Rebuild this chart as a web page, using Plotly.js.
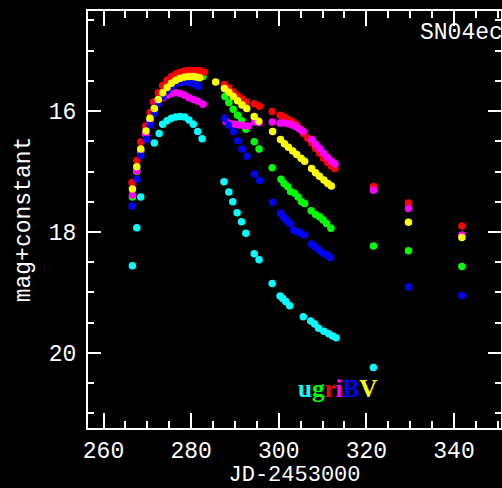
<!DOCTYPE html>
<html>
<head>
<meta charset="utf-8">
<script src="https://cdn.plot.ly/plotly-3.0.1.min.js"></script>
<style>html,body{margin:0;padding:0;background:#000;}#chart{width:502px;height:488px;}</style>
</head>
<body>
<div id="chart"></div>
<script>
// u band
const u_x = [266.6, 267.6, 268.5, 271.6, 272.7, 273.5, 274.5, 275.5, 276.5, 277.5, 278.5, 279.5, 280.5, 281.5, 282.5, 287.5, 288.6, 289.5, 290.5, 291.5, 292.5, 294.4, 295.5, 298.5, 300.3, 300.9, 301.6, 302.5, 305.6, 307.3, 308.2, 309.1, 310.3, 311.4, 312.3, 313.1, 321.6];
const u_y = [18.56, 17.93, 17.42, 16.53, 16.37, 16.22, 16.16, 16.12, 16.10, 16.09, 16.10, 16.15, 16.22, 16.34, 16.46, 17.17, 17.34, 17.50, 17.68, 17.83, 18.02, 18.36, 18.46, 18.85, 19.06, 19.10, 19.15, 19.22, 19.40, 19.47, 19.52, 19.59, 19.64, 19.68, 19.72, 19.75, 20.24];
// g band
const g_x = [266.6, 267.6, 268.5, 269.6, 270.6, 271.6, 272.5, 273.5, 274.5, 275.5, 276.5, 277.5, 278.5, 279.5, 280.5, 281.5, 282.7, 287.7, 288.6, 289.6, 290.6, 291.5, 292.5, 294.4, 295.5, 298.5, 300.5, 301.2, 302.0, 302.7, 303.6, 304.4, 305.2, 305.9, 307.4, 308.4, 309.3, 310.1, 310.9, 311.9, 321.6, 329.6, 341.8];
const g_y = [17.42, 17.00, 16.66, 16.38, 16.15, 15.97, 15.82, 15.70, 15.60, 15.53, 15.48, 15.45, 15.43, 15.42, 15.42, 15.42, 15.43, 15.76, 15.86, 15.97, 16.07, 16.16, 16.30, 16.51, 16.63, 16.94, 17.13, 17.20, 17.25, 17.33, 17.36, 17.42, 17.50, 17.53, 17.65, 17.71, 17.75, 17.80, 17.86, 17.94, 18.23, 18.31, 18.57];
// r band
const r_x = [266.5, 267.6, 268.5, 269.6, 270.6, 271.4, 272.5, 273.5, 274.5, 275.5, 276.5, 277.5, 278.5, 279.5, 280.5, 281.5, 282.2, 283.0, 287.6, 288.6, 289.6, 290.6, 291.6, 292.6, 294.4, 295.6, 298.5, 300.3, 301.2, 302.1, 303.0, 303.9, 304.8, 305.6, 306.6, 307.5, 308.4, 309.3, 310.2, 311.1, 312.0, 312.8, 321.6, 329.6, 341.8];
const r_y = [17.18, 16.82, 16.51, 16.25, 16.03, 15.85, 15.70, 15.58, 15.49, 15.43, 15.39, 15.36, 15.34, 15.33, 15.33, 15.33, 15.34, 15.36, 15.56, 15.62, 15.69, 15.75, 15.80, 15.85, 15.88, 15.92, 16.01, 16.07, 16.10, 16.14, 16.17, 16.22, 16.29, 16.37, 16.45, 16.53, 16.62, 16.70, 16.78, 16.85, 16.91, 16.95, 17.25, 17.52, 17.90];
// i band
const i_x = [266.6, 267.6, 268.5, 269.6, 270.6, 271.6, 272.5, 273.5, 274.5, 275.5, 276.5, 277.5, 278.5, 279.5, 280.5, 281.5, 282.7, 288.0, 289.0, 290.0, 291.0, 292.0, 293.0, 294.5, 295.5, 298.5, 300.3, 301.2, 302.1, 303.0, 303.9, 304.8, 305.6, 307.5, 308.4, 309.3, 310.2, 311.1, 312.0, 312.8, 321.6, 329.6, 341.8];
const i_y = [17.39, 16.99, 16.66, 16.38, 16.16, 15.98, 15.86, 15.78, 15.74, 15.71, 15.70, 15.71, 15.74, 15.78, 15.81, 15.84, 15.89, 16.18, 16.21, 16.22, 16.23, 16.24, 16.25, 16.18, 16.19, 16.18, 16.20, 16.20, 16.21, 16.23, 16.26, 16.30, 16.34, 16.47, 16.55, 16.62, 16.70, 16.77, 16.83, 16.87, 17.31, 17.61, 18.05];
// B band
const B_x = [266.5, 267.6, 268.5, 269.7, 270.6, 271.6, 272.5, 273.5, 274.5, 275.5, 276.5, 277.5, 278.5, 279.5, 280.5, 281.6, 287.6, 288.5, 289.6, 290.6, 291.6, 292.7, 294.4, 295.6, 298.6, 300.4, 301.0, 301.6, 302.5, 303.4, 304.1, 305.0, 305.7, 307.4, 308.3, 309.2, 310.1, 311.0, 311.7, 329.6, 341.8];
const B_y = [17.57, 17.13, 16.74, 16.47, 16.23, 16.04, 15.88, 15.76, 15.67, 15.60, 15.55, 15.53, 15.52, 15.53, 15.55, 15.59, 16.12, 16.23, 16.34, 16.49, 16.63, 16.75, 17.04, 17.15, 17.51, 17.69, 17.75, 17.80, 17.86, 17.97, 17.99, 18.02, 18.05, 18.20, 18.25, 18.30, 18.35, 18.38, 18.42, 18.91, 19.05];
// V band
const V_x = [266.6, 267.6, 268.5, 269.7, 270.6, 271.6, 272.5, 273.5, 274.5, 275.5, 276.5, 277.5, 278.5, 279.5, 280.5, 281.2, 281.9, 285.6, 287.6, 288.6, 289.6, 290.6, 291.6, 292.7, 294.4, 295.4, 298.6, 300.4, 301.3, 302.2, 303.2, 304.1, 305.1, 305.9, 307.5, 308.4, 309.3, 310.3, 311.2, 312.0, 329.6, 341.8];
const V_y = [17.29, 16.92, 16.63, 16.33, 16.12, 15.96, 15.81, 15.70, 15.61, 15.54, 15.49, 15.46, 15.44, 15.43, 15.43, 15.44, 15.45, 15.52, 15.63, 15.69, 15.76, 15.83, 15.90, 15.96, 16.09, 16.17, 16.34, 16.47, 16.54, 16.60, 16.66, 16.72, 16.78, 16.83, 16.95, 17.02, 17.08, 17.14, 17.20, 17.24, 17.84, 18.09];

const bandNames = ['u', 'g', 'r', 'i', 'B', 'V'];
const bandColors = ['#00ffff', '#00ff00', '#ff0000', '#ff00ff', '#0000ff', '#ffff00'];
const bandX = [u_x, g_x, r_x, i_x, B_x, V_x];
const bandY = [u_y, g_y, r_y, i_y, B_y, V_y];
const titleText = 'SN04ec';
const xTitle = 'JD-2453000';
const yTitle = 'mag+constant';

const traces = bandNames.map((n, k) => ({
  type: 'scatter', mode: 'markers', name: n,
  x: bandX[k], y: bandY[k],
  marker: {color: bandColors[k], size: 7.5, line: {width: 0}},
  hoverinfo: 'x+y+name'
}));

const mono = 'Liberation Mono, DejaVu Sans Mono, monospace';
const axFont = {family: mono, size: 23, color: '#ffffff'};
const xTitleFont = {family: mono, size: 22, color: '#ffffff'};

const legendHtml = bandNames.map((n, k) => '<span style="color:' + bandColors[k] + '">' + n + '</span>').join('');

const layout = {
  width: 502, height: 488,
  paper_bgcolor: '#000000', plot_bgcolor: '#000000',
  margin: {l: 88, r: 1, t: 11, b: 60, pad: 0},
  showlegend: false,
  font: {family: mono, color: '#ffffff'},
  xaxis: {
    range: [256.46, 350.73], tick0: 0, dtick: 20,
    showline: true, linecolor: '#ffffff', linewidth: 2, mirror: 'allticks',
    ticks: 'inside', ticklen: 15, tickwidth: 2, tickcolor: '#ffffff',
    minor: {dtick: 5, tick0: 0, ticks: 'inside', ticklen: 7, tickwidth: 2, tickcolor: '#ffffff', showgrid: false},
    showgrid: false, zeroline: false, tickfont: axFont, ticklabelstandoff: 0,
    title: {text: xTitle, font: xTitleFont, standoff: 6}
  },
  yaxis: {
    range: [21.24, 14.347], tick0: 0, dtick: 2,
    showline: true, linecolor: '#ffffff', linewidth: 2, mirror: 'allticks',
    ticks: 'inside', ticklen: 13, tickwidth: 2, tickcolor: '#ffffff',
    minor: {dtick: 0.5, tick0: 0, ticks: 'inside', ticklen: 6, tickwidth: 2, tickcolor: '#ffffff', showgrid: false},
    showgrid: false, zeroline: false, tickfont: axFont, ticklabelstandoff: 5,
    title: {text: yTitle, font: axFont, standoff: 12}
  },
  annotations: [
    {xref: 'paper', yref: 'paper', x: 0.799, y: 0.947, xanchor: 'left', yanchor: 'middle',
     text: titleText, showarrow: false, font: {family: mono, size: 23, color: '#ffffff'}},
    {xref: 'paper', yref: 'paper', x: 0.604, y: 0.094, xanchor: 'center', yanchor: 'middle',
     text: legendHtml, showarrow: false, font: {family: 'Liberation Serif, DejaVu Serif, serif', size: 25, weight: 'bold'}}
  ]
};

Plotly.newPlot('chart', traces, layout, {displayModeBar: false, responsive: false});
</script>
</body>
</html>
